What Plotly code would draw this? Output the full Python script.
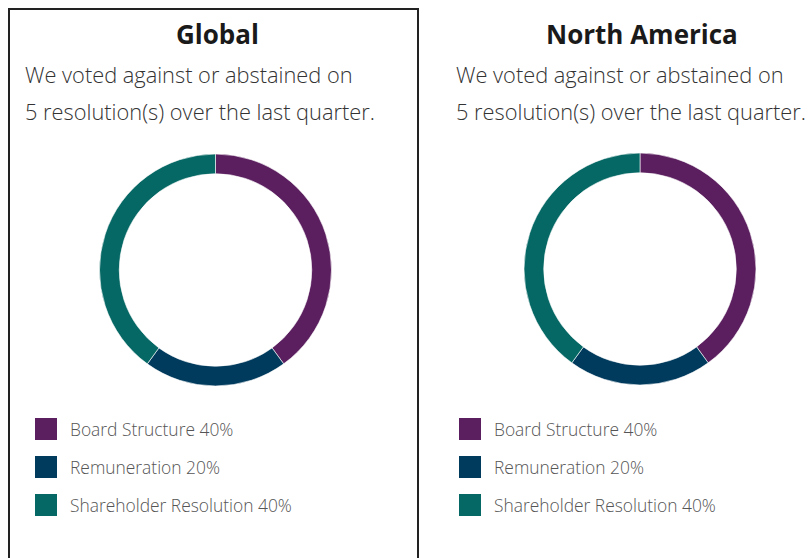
import plotly.graph_objects as go

W, H = 809, 558

categories = ["Board Structure", "Remuneration", "Shareholder Resolution"]
global_values = [40, 20, 40]
na_values = [40, 20, 40]
colors = ["#5B1F5F", "#003A5C", "#066864"]
panel_titles = ["Global", "North America"]
subtitle_lines = ["We voted against or abstained on", "5 resolution(s) over the last quarter."]

FONT = "Open Sans"


def px(x):
    return x / W


def py(y):
    return 1 - y / H


fig = go.Figure()

panels = [
    dict(title=panel_titles[0], values=global_values, cx=215.5, cy=270, r=116, text_x=25, leg_x=35),
    dict(title=panel_titles[1], values=na_values, cx=640, cy=269, r=116, text_x=456, leg_x=459),
]

annotations = []
shapes = []

for p in panels:
    fig.add_trace(go.Pie(
        labels=categories,
        values=p["values"],
        hole=0.83,
        sort=False,
        direction="clockwise",
        rotation=0,
        marker=dict(colors=colors, line=dict(color="white", width=0.6)),
        textinfo="none",
        showlegend=False,
        domain=dict(x=[px(p["cx"] - p["r"]), px(p["cx"] + p["r"])],
                    y=[py(p["cy"] + p["r"]), py(p["cy"] - p["r"])]),
    ))
    # panel title
    annotations.append(dict(
        text=f"<b>{p['title']}</b>", x=px(p["cx"] + 2), y=py(34), xref="paper", yref="paper",
        xanchor="center", yanchor="middle", showarrow=False,
        font=dict(family=FONT, size=26, color="#1a1a1a")))
    for i, line in enumerate(subtitle_lines):
        annotations.append(dict(
            text=line, x=px(p["text_x"] - 2), y=py(74 + 37 * i), xref="paper", yref="paper",
            xanchor="left", yanchor="middle", showarrow=False,
            font=dict(family=FONT, size=21.8, color="#333333", weight=300)))
    # legend
    total = sum(p["values"])
    for i, (cat, val) in enumerate(zip(categories, p["values"])):
        yc = 429 + 38 * i
        shapes.append(dict(type="rect", xref="paper", yref="paper",
                           x0=px(p["leg_x"]), x1=px(p["leg_x"] + 22),
                           y0=py(yc + 11), y1=py(yc - 11),
                           fillcolor=colors[i], line=dict(width=0)))
        annotations.append(dict(
            text=f"{cat} {round(100 * val / total)}%", x=px(p["leg_x"] + 33), y=py(yc),
            xref="paper", yref="paper", xanchor="left", yanchor="middle", showarrow=False,
            font=dict(family=FONT, size=17.4, color="#555555", weight=300)))

# border around left panel
shapes.append(dict(type="rect", xref="paper", yref="paper",
                   x0=px(9), x1=px(418), y0=py(600), y1=py(9),
                   line=dict(color="#222222", width=2), fillcolor="rgba(0,0,0,0)"))

fig.update_layout(
    width=W, height=H,
    margin=dict(l=0, r=0, t=0, b=0),
    paper_bgcolor="white", plot_bgcolor="white",
    annotations=annotations, shapes=shapes,
)

# remove the default page margin so the figure fills the window exactly
fig.write_html(
    "out.html",
    config={"displayModeBar": False},
    post_script="document.body.style.margin='0';document.body.style.overflow='hidden';",
)
